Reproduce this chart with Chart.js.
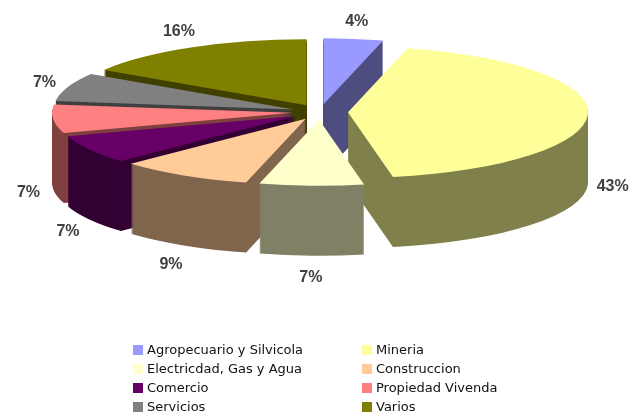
<!DOCTYPE html>
<html>
<head>
<meta charset="utf-8">
<script src="https://cdn.jsdelivr.net/npm/chart.js@4.4.1/dist/chart.umd.min.js"></script>
<style>
  html, body { margin: 0; padding: 0; background: #fff; }
</style>
</head>
<body>
<canvas id="grafico" width="629" height="414"></canvas>
<script>
// Datos del grafico (participacion por sector)
const sectores = ['Agropecuario y Silvicola', 'Mineria', 'Electricdad, Gas y Agua', 'Construccion',
  'Comercio', 'Propiedad Vivenda', 'Servicios', 'Varios'];
const porcentajes = [4, 43, 7, 9, 7, 7, 7, 16];
const coloresCara = ['#9999FF', '#FFFF99', '#FFFFCC', '#FFCC99', '#660066', '#FF8080', '#808080', '#808000'];
const coloresLado = ['#4D4D80', '#80804D', '#808066', '#80664D', '#330033', '#804040', '#404040', '#404000'];

// Parametros del efecto 3D
const APLASTE = 0.275;   // factor vertical de la elipse
const PROFUNDIDAD = 70;  // grosor del pastel en px
const SEPARACION = 28;   // explosion de cada porcion

// Plugin que dibuja el pastel aplastado con grosor
const pastel3D = {
  id: 'pastel3D',
  beforeDatasetsDraw(chart) {
    const ctx = chart.ctx;
    const meta = chart.getDatasetMeta(0);
    const porciones = meta.data.map((arc, i) => ({ arc, i, medio: (arc.startAngle + arc.endAngle) / 2 }));
    // de atras hacia adelante
    porciones.sort((a, b) => Math.sin(a.medio) - Math.sin(b.medio));

    porciones.forEach(({ arc, i, medio }) => {
      const dx = Math.cos(medio) * SEPARACION;
      const dy = Math.sin(medio) * SEPARACION;
      const base = arc.options;
      for (let d = PROFUNDIDAD; d >= 0; d--) {
        ctx.save();
        ctx.translate(0, arc.y + d);
        ctx.scale(1, APLASTE);
        ctx.translate(dx, dy - arc.y);
        arc.options = Object.assign({}, base, { backgroundColor: d === 0 ? coloresCara[i] : coloresLado[i] });
        arc.draw(ctx);
        ctx.restore();
      }
      arc.options = base;
    });
    return false;
  },
  afterDraw(chart) {
    const ctx = chart.ctx;
    const meta = chart.getDatasetMeta(0);
    ctx.save();
    // etiquetas de porcentaje
    ctx.font = 'bold 16px "Liberation Sans", Arial, sans-serif';
    ctx.fillStyle = '#404040';
    ctx.textAlign = 'center';
    ctx.textBaseline = 'middle';
    meta.data.forEach((arc, i) => {
      const medio = (arc.startAngle + arc.endAngle) / 2;
      const frente = Math.min(Math.max((0.3 + Math.sin(medio)) / 0.3, 0), 1);
      const x = arc.x + Math.cos(medio) * arc.outerRadius * 1.22;
      const y = arc.y + 2 + Math.sin(medio) * arc.outerRadius * 0.39 + PROFUNDIDAD * frente;
      ctx.fillText(porcentajes[i] + '%', x, y);
    });

    // leyenda en dos columnas
    ctx.font = '13px "DejaVu Sans", sans-serif';
    ctx.textAlign = 'left';
    sectores.forEach((nombre, i) => {
      const x = 133 + (i % 2) * 229;
      const y = 350 + Math.floor(i / 2) * 19;
      ctx.fillStyle = coloresCara[i];
      ctx.fillRect(x, y - 5, 10, 10);
      ctx.fillStyle = '#111';
      ctx.fillText(nombre, x + 14, y + 1);
    });
    ctx.restore();
  }
};

new Chart(document.getElementById('grafico'), {
  type: 'pie',
  data: {
    labels: sectores,
    datasets: [{
      data: porcentajes,
      backgroundColor: coloresCara,
      borderWidth: 0,
      radius: 240
    }]
  },
  options: {
    responsive: false,
    animation: false,
    layout: { padding: { left: 11, right: 0, top: 0, bottom: 190 } },
    plugins: {
      legend: { display: false },
      tooltip: { enabled: false }
    }
  },
  plugins: [pastel3D]
});
</script>
</body>
</html>
